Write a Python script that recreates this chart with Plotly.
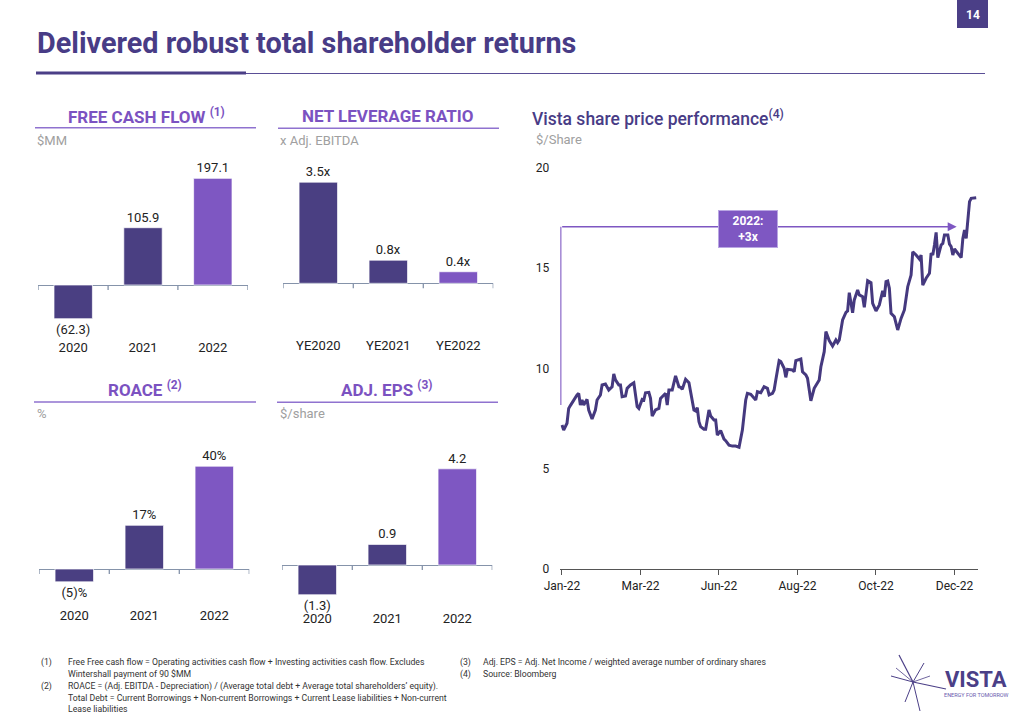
import plotly.graph_objects as go

# ---------------- data ----------------
fcf_years = ["2020", "2021", "2022"]
fcf_values = [-62.3, 105.9, 197.1]
fcf_labels = ["(62.3)", "105.9", "197.1"]

nlr_cats = ["YE2020", "YE2021", "YE2022"]
nlr_values = [3.5, 0.8, 0.4]
nlr_labels = ["3.5x", "0.8x", "0.4x"]

roace_years = ["2020", "2021", "2022"]
roace_values = [-5, 17, 40]
roace_labels = ["(5)%", "17%", "40%"]

eps_years = ["2020", "2021", "2022"]
eps_values = [-1.3, 0.9, 4.2]
eps_labels = ["(1.3)", "0.9", "4.2"]

# Vista share price, 2022 (trading-day index, $/share)
price_day = [0, 1, 3, 4, 5, 7, 9, 10, 11, 12, 13, 15, 16, 18, 20, 21, 23, 24, 26, 28,
             30, 31, 32, 34, 35, 36, 38, 39, 41, 43, 44, 45, 46, 48, 49, 50, 52, 53, 54, 56,
             58, 59, 61, 62, 63, 64, 66, 67, 68, 70, 71, 72, 74, 76, 77, 79, 80, 81, 82, 83,
             85, 86, 88, 89, 91, 92, 93, 94, 95, 97, 98, 100, 102, 104, 106, 108, 110, 111, 113, 116,
             117, 119, 121, 123, 124, 126, 127, 128, 130, 131, 133, 134, 135, 138, 139, 140, 143, 144, 146, 147,
             148, 149, 151, 153, 154, 155, 157, 158, 160, 162, 164, 165, 166, 168, 170, 171, 172, 174, 175, 177,
             178, 180, 181, 183, 185, 186, 188, 190, 192, 193, 194, 195, 196, 197, 199, 201, 203, 205, 207, 209,
             210, 212, 214, 215, 216, 218, 220, 221, 222, 223, 224, 225, 227, 228, 229, 231, 232, 233, 234, 235,
             237, 239, 240, 241, 242, 244, 245, 248]
price_value = [7.18, 6.93, 7.27, 8.01, 8.15, 8.43, 8.68, 8.76, 8.18, 8.43, 8.18, 8.46, 7.93, 7.48, 7.93, 8.43, 8.68, 9.18, 9.23, 8.93,
               9.09, 9.73, 9.43, 9.18, 9.18, 8.59, 8.63, 9.01, 9.18, 9.29, 8.76, 8.10, 8.01, 8.46, 8.43, 8.79, 8.81, 8.51, 7.63, 7.93,
               8.01, 8.51, 8.68, 8.76, 8.18, 8.93, 8.93, 9.29, 9.63, 9.09, 9.06, 8.96, 9.46, 9.29, 8.76, 7.93, 7.88, 8.04, 7.35, 7.10,
               6.97, 6.97, 7.93, 7.63, 7.43, 7.43, 6.68, 6.77, 6.90, 6.48, 6.40, 6.18, 6.13, 6.13, 6.07, 6.93, 8.43, 8.76, 8.71, 8.43,
               8.84, 8.79, 9.09, 9.01, 8.68, 8.76, 8.93, 9.43, 10.39, 10.34, 10.01, 9.56, 9.96, 9.93, 9.84, 10.39, 10.47, 9.84, 9.68, 9.51,
               8.93, 8.39, 9.01, 9.34, 9.43, 10.09, 10.84, 11.84, 11.39, 11.12, 11.42, 11.29, 11.42, 12.42, 12.80, 12.87, 13.78, 12.78, 13.42, 13.92,
               13.67, 13.58, 13.05, 14.38, 14.28, 13.25, 12.87, 13.17, 13.87, 13.58, 14.33, 14.36, 14.00, 12.75, 12.58, 11.92, 12.50, 12.92, 14.08, 14.66,
               15.82, 15.66, 15.46, 15.66, 14.16, 14.50, 14.75, 15.75, 15.66, 16.16, 16.79, 15.53, 16.16, 16.24, 16.66, 16.66, 16.20, 16.08, 15.66, 15.96,
               15.75, 15.53, 16.49, 16.91, 16.49, 18.32, 18.49, 18.52]
price_tick_days = [0, 47, 94, 141, 188, 235]
price_tick_labels = ["Jan-22", "Mar-22", "Jun-22", "Aug-22", "Oct-22", "Dec-22"]
price_y_ticks = [0, 5, 10, 15, 20]

# ---------------- styling ----------------
W, H = 1020, 717
DARK = "#4A3F82"
LIGHT = "#7E57C2"
TITLE_COL = "#483C86"
SUB_COL = "#7B52C1"
GRAY = "#A0A0A0"
AXIS_COL = "#8593AA"
FONT = "Roboto"


def fx(px):
    return px / W


def fy(py):
    return 1 - py / H


fig = go.Figure()
shapes = []
annotations = []

bar_charts = [
    dict(cats=fcf_years, vals=fcf_values, labels=fcf_labels, left=38.3, right=247.7,
         top=150, bot=338, zero=285, ppu=0.541),
    dict(cats=nlr_cats, vals=nlr_values, labels=nlr_labels, left=283.3, right=493.3,
         top=150, bot=336, zero=283.3, ppu=28.9),
    dict(cats=roace_years, vals=roace_values, labels=roace_labels, left=39.3, right=249.3,
         top=430, bot=606, zero=569, ppu=2.57),
    dict(cats=eps_years, vals=eps_values, labels=eps_labels, left=282.3, right=492.3,
         top=430, bot=609, zero=565, ppu=22.9),
]

layout_axes = {}
for i, c in enumerate(bar_charts, start=1):
    xa = "x%d" % i
    ya = "y%d" % i
    fig.add_trace(go.Bar(
        x=list(range(len(c["cats"]))), y=c["vals"], text=c["labels"],
        textposition="outside", cliponaxis=False, constraintext="none",
        textfont=dict(family=FONT, size=13, color="#222222"),
        marker=dict(color=[DARK, DARK, LIGHT], line=dict(color="rgba(255,255,255,0.7)", width=1)),
        width=0.55, xaxis=xa, yaxis=ya, hoverinfo="skip", showlegend=False,
    ))
    yr = [-(c["bot"] - c["zero"]) / c["ppu"], (c["zero"] - c["top"]) / c["ppu"]]
    layout_axes["xaxis%d" % i] = dict(
        domain=[fx(c["left"]), fx(c["right"])], anchor=ya, range=[-0.5, 2.5],
        tickvals=list(range(len(c["cats"]))), ticktext=c["cats"], showgrid=False,
        zeroline=False, showline=False, ticks="", fixedrange=True, automargin=False,
        tickfont=dict(family=FONT, size=13, color="#222222"),
    )
    layout_axes["yaxis%d" % i] = dict(
        domain=[fy(c["bot"]), fy(c["top"])], anchor=xa, range=yr, showgrid=False,
        showticklabels=False, zeroline=True, zerolinecolor=AXIS_COL, zerolinewidth=1.3,
        showline=False, ticks="", fixedrange=True, automargin=False,
    )
    for xb in [-0.5, 0.5, 1.5, 2.5]:
        shapes.append(dict(type="line", xref=xa, yref=ya, x0=xb, x1=xb,
                           ysizemode="pixel", yanchor=0, y0=0, y1=-5,
                           line=dict(color=AXIS_COL, width=1.3)))

# ---------------- share price line ----------------
ppd = 78.5 / 47.0
fig.add_trace(go.Scatter(
    x=price_day, y=price_value, mode="lines",
    line=dict(color="#45397F", width=3), xaxis="x5", yaxis="y5",
    hoverinfo="skip", showlegend=False,
))
layout_axes["xaxis5"] = dict(
    domain=[fx(562 - 1.0 * ppd), fx(562 + 249 * ppd)], anchor="y5", range=[-1, 249],
    tickvals=price_tick_days, ticktext=price_tick_labels, showgrid=False, zeroline=False,
    showline=True, linecolor="#555555", linewidth=1.2, ticks="outside", ticklen=5,
    tickcolor="#555555", tickwidth=1.2, fixedrange=True, automargin=False,
    tickfont=dict(family=FONT, size=12, color="#222222"),
)
layout_axes["yaxis5"] = dict(
    domain=[fy(569), fy(168)], anchor="x5", range=[0, 20], tickvals=price_y_ticks,
    showgrid=False, zeroline=False, showline=False, ticks="", ticklabelstandoff=10,
    tickfont=dict(family=FONT, size=12, color="#222222"), fixedrange=True, automargin=False,
)

# annotation bracket + arrow
shapes.append(dict(type="line", xref="x5", yref="y5", x0=-0.8, x1=-0.8, y0=8.18, y1=17.07,
                   line=dict(color=LIGHT, width=1.5)))
annotations.append(dict(xref="x5", yref="y5", axref="x5", ayref="y5", x=236.3, y=17.07,
                        ax=-0.8, ay=17.07, text="", showarrow=True, arrowhead=2,
                        arrowsize=1.2, arrowwidth=1.5, arrowcolor=LIGHT))
annotations.append(dict(xref="x5", yref="y5", x=111.6, y=16.97, text="<b>2022:<br>+3x</b>",
                        showarrow=False, bgcolor=LIGHT, bordercolor="#B9A6E2", borderwidth=1,
                        width=56, height=34, xanchor="center", yanchor="middle",
                        font=dict(family=FONT, size=12, color="white")))

# ---------------- header ----------------
shapes.append(dict(type="rect", xref="paper", yref="paper", x0=fx(957), x1=fx(988),
                   y0=fy(28), y1=fy(0), fillcolor="#4B3F87", line=dict(width=0)))
annotations.append(dict(xref="paper", yref="paper", x=fx(972.5), y=fy(15), text="<b>14</b>",
                        showarrow=False, xanchor="center", yanchor="middle",
                        font=dict(family=FONT, size=12, color="white")))
annotations.append(dict(xref="paper", yref="paper", x=fx(35), y=fy(43), xanchor="left",
                        yanchor="middle", text="<b>Delivered robust total shareholder returns</b>",
                        showarrow=False, font=dict(family=FONT, size=28.8, color=TITLE_COL)))
shapes.append(dict(type="line", xref="paper", yref="paper", x0=fx(246), x1=fx(985),
                   y0=fy(73.5), y1=fy(73.5), line=dict(color="#5A4E96", width=1)))
shapes.append(dict(type="line", xref="paper", yref="paper", x0=fx(36), x1=fx(246),
                   y0=fy(73), y1=fy(73), line=dict(color="#4B3F87", width=3)))

# ---------------- sub-chart titles ----------------
sub_titles = [
    ("FREE CASH FLOW <sup>(1)</sup>", 146, 115.7, 35, 256, 127.7, "$MM", 35, 140),
    ("NET LEVERAGE RATIO", 388, 116, 278, 499, 128.3, "x Adj. EBITDA", 278, 140),
    ("ROACE <sup>(2)</sup>", 145, 389.3, 34, 256, 402, "%", 35, 414),
    ("ADJ. EPS <sup>(3)</sup>", 386.7, 389.3, 277, 498, 402.3, "$/share", 278, 414),
]
for text, cx, cy, lx0, lx1, ly, unit, ux, uy in sub_titles:
    annotations.append(dict(xref="paper", yref="paper", x=fx(cx), y=fy(cy), text="<b>%s</b>" % text,
                            showarrow=False, xanchor="center", yanchor="middle",
                            font=dict(family=FONT, size=17, color=SUB_COL)))
    shapes.append(dict(type="line", xref="paper", yref="paper", x0=fx(lx0), x1=fx(lx1),
                       y0=fy(ly), y1=fy(ly), line=dict(color="#8F72CF", width=1.5)))
    annotations.append(dict(xref="paper", yref="paper", x=fx(ux), y=fy(uy), text=unit,
                            showarrow=False, xanchor="left", yanchor="middle",
                            font=dict(family=FONT, size=13, color=GRAY)))

annotations.append(dict(xref="paper", yref="paper", x=fx(530), y=fy(117.7), xanchor="left",
                        yanchor="middle", text="Vista share price performance<sup>(4)</sup>",
                        showarrow=False, font=dict(family=FONT, size=17.5, color=TITLE_COL, weight=500)))
annotations.append(dict(xref="paper", yref="paper", x=fx(534), y=fy(139), xanchor="left",
                        yanchor="middle", text="$/Share", showarrow=False,
                        font=dict(family=FONT, size=13, color=GRAY)))

# ---------------- footnotes ----------------
notes = [
    ("(1)", 39, 66, 662, "Free Free cash flow = Operating activities cash flow + Investing activities cash flow. Excludes"),
    ("", 39, 66, 674, "Wintershall payment of 90 $MM"),
    ("(2)", 39, 66, 686, "ROACE = (Adj. EBITDA - Depreciation) / (Average total debt + Average total shareholders\u2019 equity)."),
    ("", 39, 66, 698, "Total Debt = Current Borrowings + Non-current Borrowings + Current Lease liabilities + Non-current"),
    ("", 39, 66, 709, "Lease liabilities"),
    ("(3)", 458, 481, 662, "Adj. EPS = Adj. Net Income / weighted average number of ordinary shares"),
    ("(4)", 458, 481, 674, "Source: Bloomberg"),
]
for num, nx, tx, ny, txt in notes:
    if num:
        annotations.append(dict(xref="paper", yref="paper", x=fx(nx), y=fy(ny), text=num,
                                showarrow=False, xanchor="left", yanchor="middle",
                                font=dict(family=FONT, size=8.7, color="#333333")))
    annotations.append(dict(xref="paper", yref="paper", x=fx(tx), y=fy(ny), text=txt,
                            showarrow=False, xanchor="left", yanchor="middle",
                            font=dict(family=FONT, size=8.7, color="#333333")))

# ---------------- logo ----------------
cx0, cy0 = 913, 682
for ex, ey, wd in [(899, 655, 1.2), (924, 663, 1.0), (891, 676, 1.0), (946, 689, 1.2),
                   (905, 702, 1.0), (920, 711, 1.0), (896, 668, 0.8), (930, 676, 0.8)]:
    shapes.append(dict(type="line", xref="paper", yref="paper", x0=fx(cx0), y0=fy(cy0),
                       x1=fx(ex), y1=fy(ey), line=dict(color="#4B3F87", width=wd)))
annotations.append(dict(xref="paper", yref="paper", x=fx(976), y=fy(679.5), text="<b>VISTA</b>",
                        showarrow=False, xanchor="center", yanchor="middle",
                        font=dict(family=FONT, size=22, color="#4B3F87")))
annotations.append(dict(xref="paper", yref="paper", x=fx(976), y=fy(695), text="ENERGY FOR TOMORROW",
                        showarrow=False, xanchor="center", yanchor="middle",
                        font=dict(family=FONT, size=5.5, color="#6A5AAE")))

fig.update_layout(
    width=W, height=H, margin=dict(l=0, r=0, t=0, b=0, pad=0, autoexpand=False),
    paper_bgcolor="white", plot_bgcolor="white", showlegend=False,
    shapes=shapes, annotations=annotations, **layout_axes,
)

fig.write_html("out.html", config={"displayModeBar": False},
               post_script="document.body.style.margin='0';document.body.style.overflow='hidden';")
